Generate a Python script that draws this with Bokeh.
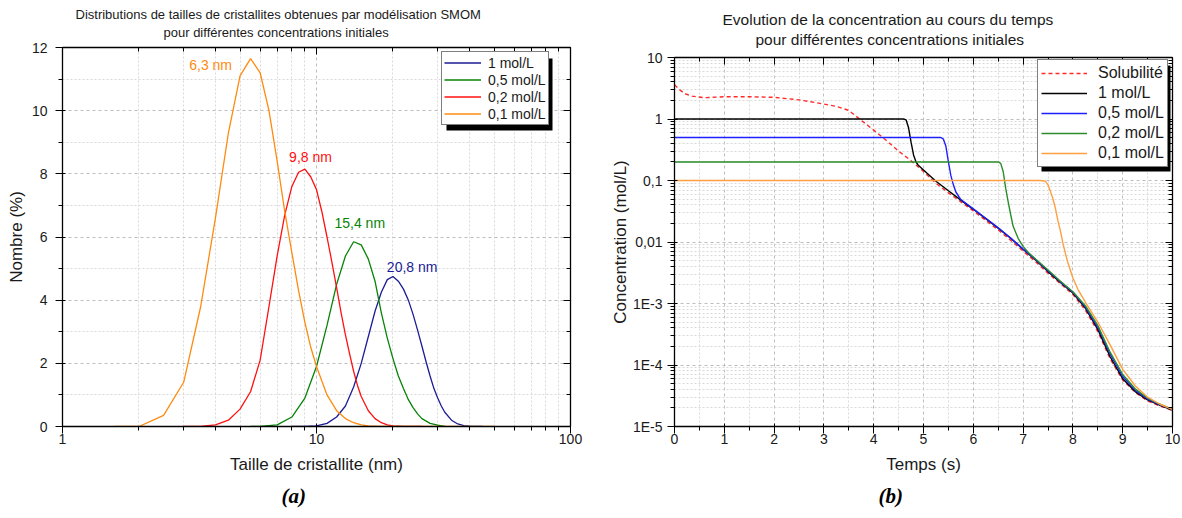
from bokeh.plotting import figure
from bokeh.layouts import row, column
from bokeh.models import (LinearAxis, LogAxis, FixedTicker, CustomJSTickFormatter,
                          Legend, LegendItem, Label, BoxAnnotation, Range1d, Title)
from bokeh.embed import file_html
from bokeh.resources import INLINE

FONT = "Liberation Sans"
SERIF = "Liberation Serif"
TXT = "#1a1a1a"

# ------------------------------------------------------------------ (a) data
SIZE_1 = [8.0, 9.0, 10.0, 11.0, 12.0, 13.0, 14.0, 15.0, 16.0, 17.0, 18.0, 19.0, 20.0,
          21.0, 22.0, 23.0, 24.0, 25.0, 26.0, 27.0, 28.0, 29.0, 30.0, 31.0, 32.0,
          34.0, 36.0, 38.0, 40.0, 45.0]
NB_1 = [0.0, 0.0, 0.02, 0.1, 0.3, 0.65, 1.25, 2.0, 2.85, 3.65, 4.25, 4.65, 4.75,
        4.6, 4.35, 4.0, 3.55, 3.05, 2.55, 2.05, 1.6, 1.2, 0.9, 0.65, 0.45,
        0.2, 0.08, 0.03, 0.01, 0.0]

SIZE_05 = [5.5, 6.0, 7.0, 8.0, 9.0, 10.0, 11.0, 12.0, 13.0, 14.0, 15.0, 16.0, 17.0,
           18.0, 19.0, 20.0, 21.0, 22.0, 23.0, 24.0, 25.0, 26.0, 28.0, 30.0, 32.0]
NB_05 = [0.0, 0.0, 0.05, 0.3, 0.9, 1.9, 3.2, 4.5, 5.4, 5.85, 5.75, 5.3, 4.6,
         3.6, 2.8, 2.15, 1.6, 1.2, 0.85, 0.6, 0.4, 0.25, 0.1, 0.04, 0.0]

SIZE_02 = [3.0, 3.5, 4.0, 4.5, 5.0, 5.5, 6.0, 6.5, 7.0, 7.5, 8.0, 8.5, 9.0, 9.5,
           10.0, 10.5, 11.0, 11.5, 12.0, 12.5, 13.0, 13.5, 14.0, 14.5, 15.0, 16.0,
           17.0, 18.0, 19.0, 20.0, 22.0, 26.0]
NB_02 = [0.0, 0.0, 0.05, 0.2, 0.55, 1.1, 2.1, 3.8, 5.4, 6.7, 7.6, 8.05, 8.15, 7.9,
         7.5, 6.8, 6.0, 5.2, 4.4, 3.6, 2.9, 2.3, 1.75, 1.3, 0.95, 0.5,
         0.25, 0.12, 0.05, 0.02, 0.0, 0.0]

SIZE_01 = [1.6, 2.0, 2.5, 3.0, 3.5, 4.0, 4.5, 5.0, 5.5, 6.0, 6.5, 7.0, 7.5, 8.0,
           8.5, 9.0, 9.5, 10.0, 11.0, 12.0, 13.0, 14.0, 15.0, 16.0, 18.0, 20.0,
           30.0, 50.0]
NB_01 = [0.0, 0.0, 0.35, 1.4, 3.8, 6.6, 9.3, 11.1, 11.65, 11.2, 10.0, 8.4, 6.8, 5.5,
         4.3, 3.3, 2.5, 1.9, 1.0, 0.5, 0.25, 0.12, 0.05, 0.02, 0.0, 0.0,
         0.0, 0.0]

A_NAMES = ["1 mol/L", "0,5 mol/L", "0,2 mol/L", "0,1 mol/L"]
A_COLORS = ["#1c1c96", "#078307", "#ff1010", "#ff8a10"]

PEAK_TEXT = ["6,3 nm", "9,8 nm", "15,4 nm", "20,8 nm"]
PEAK_X = [3.83, 9.47, 14.8, 23.8]
PEAK_Y = [11.46, 8.52, 6.43, 5.05]
PEAK_COLORS = ["#ff8a10", "#ff1010", "#078307", "#1c1c96"]

A_X_TICKS = [1, 10, 100]
A_X_LABELS = ["1", "10", "100"]
A_Y_TICKS = [0, 2, 4, 6, 8, 10, 12]

TITLE_A = ["Distributions de tailles de cristallites obtenues par modélisation SMOM",
           "pour différentes concentrations initiales"]
XLABEL_A = "Taille de cristallite (nm)"
YLABEL_A = "Nombre (%)"

# ------------------------------------------------------------------ (b) data
T_SOL = [0.0, 0.1, 0.2, 0.35, 0.6, 1.0, 1.5, 2.0, 2.5, 3.0, 3.25, 3.5, 3.75, 4.0,
         4.25, 4.5, 4.75, 5.0, 5.25, 5.5, 5.75, 6.0, 6.25, 6.5, 6.75, 7.0, 7.25,
         7.5, 7.75, 8.0, 8.25, 8.5, 8.75, 9.0, 9.25, 9.5, 9.75, 10.0]
C_SOL = [3.6, 3.0, 2.6, 2.35, 2.22, 2.3, 2.3, 2.25, 2.05, 1.75, 1.6, 1.38, 0.95, 0.66,
         0.45, 0.3, 0.21, 0.14, 0.09, 0.063, 0.045, 0.032, 0.0225, 0.0157, 0.0107,
         0.0071, 0.0048, 0.0031, 0.0021, 0.0014, 7.8e-4, 3.5e-4, 1.25e-4, 5.7e-5,
         3.6e-5, 2.6e-5, 2.15e-5, 1.82e-5]

T_1 = [0.0, 4.6, 4.65, 4.7, 4.75, 4.8, 4.85, 4.9, 5.0, 5.25, 5.5, 5.75, 6.0, 6.25,
       6.5, 6.75, 7.0, 7.25, 7.5, 7.75, 8.0, 8.25, 8.5, 8.75, 9.0, 9.25, 9.5,
       9.75, 10.0]
C_1 = [1.0, 1.0, 0.97, 0.72, 0.42, 0.26, 0.2, 0.175, 0.148, 0.097, 0.068, 0.048,
       0.034, 0.024, 0.0168, 0.0115, 0.0076, 0.0051, 0.0033, 0.0022, 0.00148,
       8.4e-4, 3.8e-4, 1.35e-4, 6.0e-5, 3.7e-5, 2.7e-5, 2.2e-5, 1.85e-5]

T_05 = [0.0, 5.35, 5.4, 5.45, 5.5, 5.55, 5.6, 5.65, 5.75, 6.0, 6.25, 6.5, 6.75,
        7.0, 7.25, 7.5, 7.75, 8.0, 8.25, 8.5, 8.75, 9.0, 9.25, 9.5, 9.75, 10.0]
C_05 = [0.5, 0.5, 0.47, 0.36, 0.2, 0.12, 0.085, 0.065, 0.049, 0.0345, 0.0243,
        0.017, 0.0116, 0.0077, 0.0052, 0.0034, 0.00225, 0.00152, 8.8e-4, 4.1e-4,
        1.5e-4, 6.5e-5, 3.9e-5, 2.8e-5, 2.25e-5, 1.88e-5]

T_02 = [0.0, 6.5, 6.55, 6.6, 6.65, 6.7, 6.75, 6.8, 6.9, 7.0, 7.1, 7.25, 7.5, 7.75,
        8.0, 8.25, 8.5, 8.75, 9.0, 9.25, 9.5, 9.75, 10.0]
C_02 = [0.2, 0.2, 0.19, 0.14, 0.075, 0.045, 0.028, 0.018, 0.0115, 0.0085, 0.0068,
        0.0053, 0.0035, 0.0023, 0.00155, 9.2e-4, 4.4e-4, 1.6e-4, 7.0e-5, 4.1e-5,
        2.9e-5, 2.3e-5, 1.9e-5]

T_01 = [0.0, 7.35, 7.45, 7.5, 7.55, 7.6, 7.65, 7.7, 7.75, 7.8, 7.85, 7.9, 8.0, 8.1,
        8.25, 8.5, 8.75, 9.0, 9.25, 9.5, 9.75, 10.0]
C_01 = [0.1, 0.1, 0.097, 0.085, 0.066, 0.05, 0.035, 0.022, 0.015, 0.0095, 0.0065,
        0.0046, 0.0026, 0.0017, 0.00105, 5.0e-4, 2.1e-4, 8.5e-5, 4.6e-5, 3.0e-5,
        2.3e-5, 1.9e-5]

B_NAMES = ["Solubilité", "1 mol/L", "0,5 mol/L", "0,2 mol/L", "0,1 mol/L"]
B_COLORS = ["#ff2a2a", "#000000", "#1f1fff", "#2a8c2a", "#ff9f40"]

B_X_TICKS = [0, 1, 2, 3, 4, 5, 6, 7, 8, 9, 10]
B_Y_TICKS = [1e-5, 1e-4, 1e-3, 1e-2, 1e-1, 1.0, 10.0]
B_Y_LABELS = ["1E-5", "1E-4", "1E-3", "0,01", "0,1", "1", "10"]

TITLE_B = ["Evolution de la concentration au cours du temps",
           "pour différentes concentrations initiales"]
XLABEL_B = "Temps (s)"
YLABEL_B = "Concentration (mol/L)"
CAPTIONS = ["(a)", "(b)"]

# ------------------------------------------------------------------ layout (canvas px)
W1, W2, H = 600, 582, 516
A_L, A_R, A_T, A_B = 62, 570, 47, 426          # frame (a)
B_L, B_R, B_T, B_B = 674, 1172, 57, 426        # frame (b), page coords


def style_axis(ax):
    ax.axis_line_color = "black"
    ax.axis_line_width = 1.3
    ax.major_tick_line_color = "black"
    ax.minor_tick_line_color = "black"
    ax.major_tick_in = 3
    ax.major_tick_out = 7
    ax.minor_tick_in = 0
    ax.minor_tick_out = 4
    ax.major_label_text_font = FONT
    ax.major_label_text_font_size = "14px"
    ax.major_label_text_color = TXT
    ax.axis_label_text_font = FONT
    ax.axis_label_text_font_size = "17px"
    ax.axis_label_text_font_style = "normal"
    ax.axis_label_text_color = TXT


def mirror_axis(cls, ticker):
    return cls(ticker=ticker, formatter=CustomJSTickFormatter(code="return '';"),
               axis_line_color="black", axis_line_width=1.3,
               major_tick_line_color="black", minor_tick_line_color="black",
               major_tick_in=7, major_tick_out=0, minor_tick_in=4, minor_tick_out=0,
               major_label_standoff=0, major_label_text_font_size="1px",
               axis_label_standoff=0)


def style_grid(g, ticker):
    g.ticker = ticker
    g.grid_line_color = "#bdbdbd"
    g.grid_line_dash = "3 3"
    g.grid_line_width = 1
    g.minor_grid_line_color = "#d9d9d9"
    g.minor_grid_line_dash = "2 2"


def add_titles(p, lines, offsets, standoffs, size):
    # innermost first: second line sits closest to the frame
    for txt, off, so in reversed(list(zip(lines, offsets, standoffs))):
        p.add_layout(Title(text=txt, align="left", offset=off, standoff=so,
                           vertical_align="middle", text_font=FONT,
                           text_font_size=size, text_font_style="normal",
                           text_color=TXT), "above")


def add_caption(p, txt, off):
    p.add_layout(Title(text=txt, align="left", offset=off, standoff=12,
                       vertical_align="middle", text_font=SERIF,
                       text_font_size="21px", text_font_style="bold italic",
                       text_color="black"), "below")


# ================================================================== figure (a)
p1 = figure(width=W1, height=H, x_axis_type="log",
            x_range=Range1d(1, 100), y_range=Range1d(0, 12),
            output_backend="svg", toolbar_location=None,
            min_border_left=A_L, min_border_right=W1 - A_R,
            min_border_top=A_T, min_border_bottom=H - A_B)
p1.outline_line_color = "black"
p1.background_fill_color = "white"
p1.border_fill_color = "white"

ax_minor = [m * 10 ** d for d in (0, 1) for m in range(2, 10)]
xt1 = FixedTicker(ticks=A_X_TICKS, minor_ticks=ax_minor)
yt1 = FixedTicker(ticks=A_Y_TICKS, minor_ticks=[1, 3, 5, 7, 9, 11])
bx = p1.below[0]
ly = p1.left[0]
bx.ticker = xt1
bx.formatter = CustomJSTickFormatter(args=dict(vals=A_X_TICKS, labs=A_X_LABELS), code="""
for (let i = 0; i < vals.length; i++) {
  if (Math.abs(Math.log10(tick) - Math.log10(vals[i])) < 1e-6) return labs[i];
}
return '';""")
ly.ticker = yt1
style_axis(bx)
style_axis(ly)
bx.axis_label = XLABEL_A
ly.axis_label = YLABEL_A
bx.major_label_standoff = 0
bx.axis_label_standoff = 8
ly.major_label_standoff = 8
ly.axis_label_standoff = 3
style_grid(p1.xgrid[0], xt1)
style_grid(p1.ygrid[0], yt1)
p1.add_layout(mirror_axis(LogAxis, xt1), "above")
p1.add_layout(mirror_axis(LinearAxis, yt1), "right")

rs1 = []
for xs, ys, col in zip([SIZE_1, SIZE_05, SIZE_02, SIZE_01], [NB_1, NB_05, NB_02, NB_01], A_COLORS):
    rs1.append(p1.line(xs, ys, line_color=col, line_width=1.3))

for t, x, y, c in zip(PEAK_TEXT, PEAK_X, PEAK_Y, PEAK_COLORS):
    p1.add_layout(Label(x=x, y=y, text=t, text_align="center", text_baseline="middle",
                        text_font=FONT, text_font_size="14px", text_color=c))


def a_x(px):
    return 10 ** ((px - A_L) / (A_R - A_L) * 2)


def a_y(py):
    return (A_B - py) / (A_B - A_T) * 12


LEG_A = (441, 53, 547, 125)   # left, top, right, bottom
p1.add_layout(BoxAnnotation(left=a_x(LEG_A[0] + 5), right=a_x(LEG_A[2] + 5),
                            top=a_y(LEG_A[1] + 5), bottom=a_y(LEG_A[3] + 5),
                            fill_color="black", fill_alpha=1.0, line_color=None))
leg1 = Legend(items=[LegendItem(label=n, renderers=[r]) for n, r in zip(A_NAMES, rs1)],
              location=(LEG_A[0] - A_L, A_B - LEG_A[3]), margin=0, padding=2,
              spacing=0, label_height=17, glyph_height=17, glyph_width=37,
              label_standoff=7, label_text_font=FONT, label_text_font_size="14px",
              label_text_color=TXT, border_line_color="black", border_line_width=1,
              background_fill_color="white", background_fill_alpha=1.0)
p1.add_layout(leg1)

add_titles(p1, TITLE_A, [75 - A_L, 163 - A_L], [-11.6, 14.4], "13px")
add_caption(p1, CAPTIONS[0], 281 - A_L)

# ================================================================== figure (b)
p2 = figure(width=W2, height=H, y_axis_type="log",
            x_range=Range1d(0, 10), y_range=Range1d(1e-5, 10),
            output_backend="svg", toolbar_location=None,
            min_border_left=B_L - W1, min_border_right=W1 + W2 - B_R,
            min_border_top=B_T, min_border_bottom=H - B_B)
p2.outline_line_color = "black"
p2.background_fill_color = "white"
p2.border_fill_color = "white"

by_minor = [m * 10.0 ** d for d in range(-5, 1) for m in range(2, 10)]
xt2 = FixedTicker(ticks=B_X_TICKS, minor_ticks=[i + 0.5 for i in range(10)])
yt2 = FixedTicker(ticks=B_Y_TICKS, minor_ticks=by_minor)
bx2 = p2.below[0]
ly2 = p2.left[0]
bx2.ticker = xt2
ly2.ticker = yt2
ly2.formatter = CustomJSTickFormatter(args=dict(vals=B_Y_TICKS, labs=B_Y_LABELS), code="""
for (let i = 0; i < vals.length; i++) {
  if (Math.abs(Math.log10(tick) - Math.log10(vals[i])) < 1e-6) return labs[i];
}
return '';""")
style_axis(bx2)
style_axis(ly2)
bx2.axis_label = XLABEL_B
ly2.axis_label = YLABEL_B
bx2.major_label_standoff = 0
bx2.axis_label_standoff = 8
ly2.major_label_standoff = 5
ly2.axis_label_standoff = 0
style_grid(p2.xgrid[0], xt2)
style_grid(p2.ygrid[0], yt2)
p2.add_layout(mirror_axis(LinearAxis, xt2), "above")
p2.add_layout(mirror_axis(LogAxis, yt2), "right")

rs2 = []
series_b = [(T_SOL, C_SOL), (T_1, C_1), (T_05, C_05), (T_02, C_02), (T_01, C_01)]
for i, ((ts, cs), col) in enumerate(zip(series_b, B_COLORS)):
    if i == 0:
        rs2.append(p2.line(ts, cs, line_color=col, line_width=1.4, line_dash="4 3"))
    else:
        rs2.append(p2.line(ts, cs, line_color=col, line_width=1.4))


def b_x(px):
    return (px - B_L) / (B_R - B_L) * 10


def b_y(py):
    return 10 ** (1 - (py - B_T) / (B_B - B_T) * 6)


LEG_B = (1037, 61, 1166, 167)
p2.add_layout(BoxAnnotation(left=b_x(LEG_B[0] + 4), right=b_x(LEG_B[2] + 4),
                            top=b_y(LEG_B[1] + 4), bottom=b_y(LEG_B[3] + 4),
                            fill_color="black", fill_alpha=1.0, line_color=None))
leg2 = Legend(items=[LegendItem(label=n, renderers=[r]) for n, r in zip(B_NAMES, rs2)],
              location=(LEG_B[0] - B_L, B_B - LEG_B[3]), margin=0, padding=3,
              spacing=0, label_height=20, glyph_height=20, glyph_width=46,
              label_standoff=11, label_text_font=FONT, label_text_font_size="16px",
              label_text_color=TXT, border_line_color="black", border_line_width=1,
              background_fill_color="white", background_fill_alpha=1.0)
p2.add_layout(leg2)

add_titles(p2, TITLE_B, [722 - B_L, 755 - B_L], [-14.6, 17.4], "15.5px")
add_caption(p2, CAPTIONS[1], 878 - B_L)

layout = row(column(p1), column(p2))
open("out.html", "w").write(file_html(layout, INLINE))
